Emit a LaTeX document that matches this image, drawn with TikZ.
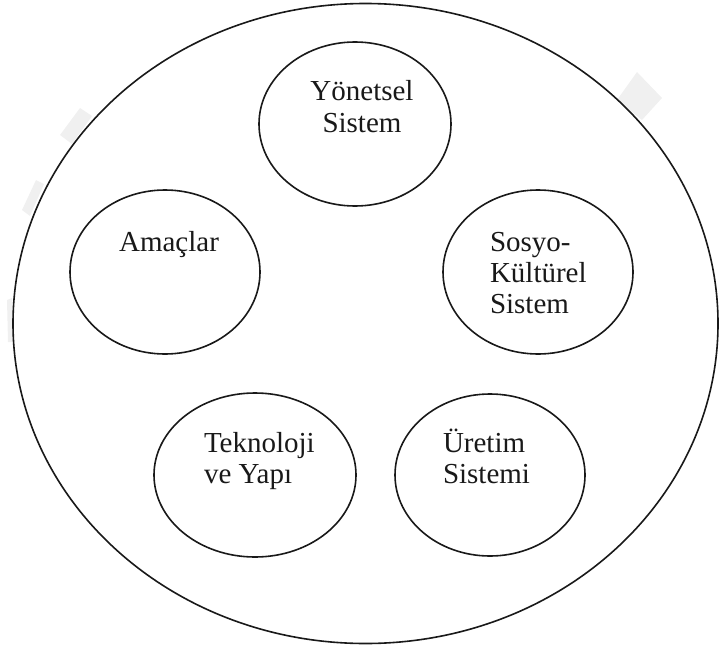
\documentclass[tikz,border=0pt]{standalone}
\usepackage{fontspec}
\setmainfont{Liberation Serif}
\usetikzlibrary{shapes.geometric}
\tikzset{
  sysellipse/.style={draw=black!90, line width=1.6pt, ellipse, inner sep=0pt, outer sep=0pt, fill=white},
  lbl/.style={inner sep=0pt, outer sep=0pt, font=\fontsize{29}{31}\selectfont, text=black!90},
  wmark/.style={fill=black!6, draw=none}
}
\begin{document}
\begin{tikzpicture}[x=1pt, y=-1pt]
\useasboundingbox (0,0) rectangle (719,650);
% faint watermark fragments
\fill[wmark] (617,100) -- (637,72) -- (662,98) -- (642,120) -- cycle;
\fill[wmark] (60,135) -- (80,108) -- (92,116) -- (72,144) -- cycle;
\fill[wmark] (22,210) -- (36,180) -- (44,184) -- (30,216) -- cycle;
\fill[wmark] (7,300) -- (12,298) -- (13,342) -- (8,342) -- cycle;
% outer ellipse
\node[sysellipse, minimum width=705pt, minimum height=640pt] (outer) at (365.5,323.5) {};
% inner ellipses
\node[sysellipse, minimum width=192pt, minimum height=164pt] (yon) at (355,124) {};
\node[sysellipse, minimum width=190pt, minimum height=164pt] (ama) at (165,272) {};
\node[sysellipse, minimum width=190pt, minimum height=164pt] (sos) at (538,272) {};
\node[sysellipse, minimum width=202pt, minimum height=164pt] (tek) at (255,475) {};
\node[sysellipse, minimum width=190pt, minimum height=162pt] (ure) at (490,475) {};
% labels
\node[lbl, anchor=base] (yonA) at (362,100) {Yönetsel};
\node[lbl, anchor=base] (yonB) at (362,132) {Sistem};
\node[lbl, anchor=base] (amaA) at (169,251) {Amaçlar};
\node[lbl, anchor=base west] (sosA) at (490,251) {Sosyo-};
\node[lbl, anchor=base west] (sosB) at (490,282) {Kültürel};
\node[lbl, anchor=base west] (sosC) at (490,313) {Sistem};
\node[lbl, anchor=base west] (tekA) at (204,452) {Teknoloji};
\node[lbl, anchor=base west] (tekB) at (204,483) {ve Yapı};
\node[lbl, anchor=base west] (ureA) at (443,452) {Üretim};
\node[lbl, anchor=base west] (ureB) at (443,483) {Sistemi};
\end{tikzpicture}
\end{document}
